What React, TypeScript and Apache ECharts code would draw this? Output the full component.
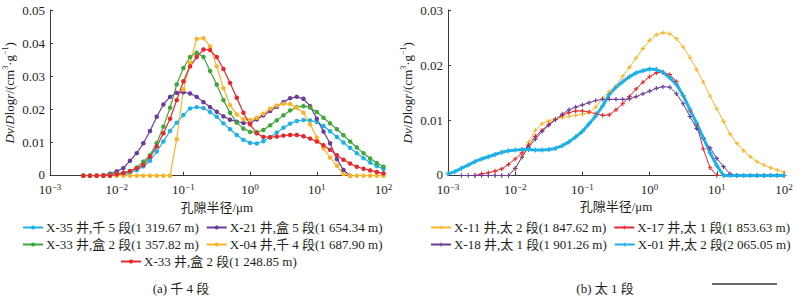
import React, { useEffect, useRef } from "react";
import * as echarts from "echarts";

// ---------- data ----------
// left chart (a) 千4段 : pore radius (µm)
const xLeft = [
  0.00316, 0.00398, 0.00501, 0.00631, 0.00794, 0.01, 0.0126, 0.0158, 0.02, 0.0251,
  0.0316, 0.0398, 0.0501, 0.0631, 0.0794, 0.1, 0.126, 0.158, 0.2, 0.251,
  0.316, 0.398, 0.501, 0.631, 0.794, 1, 1.26, 1.58, 2, 2.51,
  3.16, 3.98, 5.01, 6.31, 7.94, 10, 12.6, 15.8, 20, 25.1,
  31.6, 39.8, 50.1, 63.1, 79.4, 100,
];
const namesLeft = [
  "X-35 井,千 5 段(1 319.67 m)",
  "X-21 井,盒 5 段(1 654.34 m)",
  "X-33 井,盒 2 段(1 357.82 m)",
  "X-04 井,千 4 段(1 687.90 m)",
  "X-33 井,盒 2 段(1 248.85 m)",
];
const x35 = [
  0, 0, 0, 0, 0, 0.0001,
  0.0003, 0.0008, 0.0017, 0.0028, 0.0045,
  0.0073, 0.0103, 0.0135, 0.016, 0.0183,
  0.0203, 0.0207, 0.0204, 0.0192, 0.0178,
  0.0158, 0.014, 0.0123, 0.0108, 0.0099,
  0.0097, 0.0104, 0.0116, 0.013, 0.0145,
  0.0157, 0.0165, 0.0168, 0.0167, 0.0162,
  0.015, 0.0134, 0.0117, 0.01, 0.0084,
  0.0068, 0.0053, 0.004, 0.0029, 0.002,
];
const x21 = [
  0, 0, 0, 0.0002, 0.0006, 0.0013,
  0.0023, 0.0045, 0.0068, 0.0098, 0.0135,
  0.0178, 0.0215, 0.0238, 0.025, 0.0252,
  0.0248, 0.0238, 0.0222, 0.0207, 0.0193,
  0.0179, 0.0169, 0.0163, 0.0159, 0.0159,
  0.017, 0.0182, 0.0195, 0.0208, 0.0222,
  0.0234, 0.0238, 0.0232, 0.021, 0.0172,
  0.0133, 0.0098, 0.005, 0.0017, 0,
  null, null, null, null, null,
];
const x33a = [
  0, 0, 0, 0.0001, 0.0003, 0.0006,
  0.0009, 0.0013, 0.0025, 0.0042, 0.0062,
  0.0098, 0.0148, 0.0205, 0.0275, 0.0325,
  0.0358, 0.0371, 0.0358, 0.0316, 0.0275,
  0.0228, 0.019, 0.016, 0.0142, 0.0132,
  0.0131, 0.0138, 0.0152, 0.0167, 0.0182,
  0.0197, 0.0207, 0.021, 0.0206, 0.0192,
  0.0175, 0.0158, 0.014, 0.0122, 0.0103,
  0.0085, 0.0068, 0.0052, 0.0038, 0.0027,
];
const x04 = [
  0, 0, 0, 0, 0, 0,
  0, 0, 0, 0, 0,
  0, 0, 0, 0.011, 0.026,
  0.034, 0.0413, 0.0415, 0.039, 0.033,
  0.0264, 0.0213, 0.0185, 0.017, 0.0168,
  0.0175, 0.0187, 0.0202, 0.0212, 0.0217,
  0.0216, 0.0205, 0.019, 0.0155, 0.0115,
  0.0083, 0.0055, 0.003, 0.0005, 0,
  0, 0, 0, 0, 0,
];
const x33b = [
  0, 0, 0, 0, 0, 0.0004,
  0.0008, 0.0014, 0.0022, 0.0032, 0.0057,
  0.0088, 0.0128, 0.0172, 0.0228, 0.0285,
  0.033, 0.0358, 0.0381, 0.0379, 0.0358,
  0.0322, 0.028, 0.0235, 0.019, 0.0155,
  0.0128, 0.0117, 0.0116, 0.0118, 0.0121,
  0.0123, 0.0123, 0.0119, 0.0112, 0.0103,
  0.0092, 0.0078, 0.0062, 0.0048, 0.0037,
  0.0027, 0.0021, 0.0016, 0.0011, 0.0007,
];

// right chart (b) 太1段
const xRight = [
  0.001, 0.00126, 0.00158, 0.002, 0.00251, 0.00316, 0.00398, 0.00501, 0.00631, 0.00794,
  0.01, 0.0126, 0.0158, 0.02, 0.0251, 0.0316, 0.0398, 0.0501, 0.0631, 0.0794,
  0.1, 0.126, 0.158, 0.2, 0.251, 0.316, 0.398, 0.501, 0.631, 0.794,
  1, 1.26, 1.58, 2, 2.51, 3.16, 3.98, 5.01, 6.31, 7.94,
  10, 12.6, 15.8, 20, 25.1, 31.6, 39.8, 50.1, 63.1, 79.4,
  100,
];
const namesRight = [
  "X-11 井,太 2 段(1 847.62 m)",
  "X-17 井,太 1 段(1 853.63 m)",
  "X-18 井,太 1 段(1 901.26 m)",
  "X-01 井,太 2 段(2 065.05 m)",
];
const x11 = [
  null, null, null, null, null, null, null, 0, 0, 0, 0.0012,
  0.0034, 0.006, 0.0082, 0.0094, 0.0099,
  0.0103, 0.0105, 0.0107, 0.0109, 0.0111,
  0.0114, 0.0124, 0.014, 0.0152, 0.0162,
  0.018, 0.0196, 0.0213, 0.023, 0.0245,
  0.0255, 0.0259, 0.0257, 0.0248, 0.0233,
  0.0214, 0.0192, 0.0169, 0.0144, 0.0121,
  0.0098, 0.0075, 0.0058, 0.0045, 0.0034,
  0.0025, 0.0019, 0.0014, 0.001, 0.0006,
];
const x17 = [
  null, null, null, null, 0, 0.0003, 0.0005, 0.0008, 0.0012, 0.002, 0.003,
  0.0041, 0.0055, 0.0071, 0.0082, 0.0093,
  0.0102, 0.0109, 0.0114, 0.0117, 0.0117,
  0.0115, 0.0112, 0.0109, 0.011, 0.0119,
  0.013, 0.0143, 0.0157, 0.0169, 0.0179,
  0.0186, 0.0187, 0.0183, 0.017, 0.0145,
  0.0117, 0.0092, 0.0048, 0.0014, 0,
  0, null, null, null, null,
  null, null, null, null, null,
];
const x18 = [
  null, null, 0, 0, 0, 0, 0, 0, 0, 0, 0.0013,
  0.0033, 0.0051, 0.0066, 0.008, 0.0091,
  0.0101, 0.0111, 0.0119, 0.0124, 0.0128,
  0.0132, 0.0136, 0.0138, 0.0138, 0.0138,
  0.0138, 0.0139, 0.0143, 0.0148, 0.0153,
  0.0158, 0.0161, 0.016, 0.0148, 0.013,
  0.0107, 0.0085, 0.0067, 0.005, 0.0031,
  0.0016, 0.0003, 0, 0, 0,
  0, 0, 0, 0, 0,
];
const x01 = [
  0.0003, 0.0007, 0.0013, 0.0019, 0.0025, 0.003, 0.0034, 0.0038, 0.0042, 0.0045, 0.0046,
  0.0047, 0.0047, 0.0046, 0.0046, 0.0047,
  0.0049, 0.0054, 0.0061, 0.007, 0.008,
  0.0094, 0.0108, 0.0126, 0.0147, 0.016,
  0.017, 0.0179, 0.0186, 0.019, 0.0193,
  0.0192, 0.0187, 0.0177, 0.0165, 0.0145,
  0.012, 0.0095, 0.0068, 0.0041, 0.0018,
  0, 0, 0, 0, 0,
  0, 0, 0, 0, 0,
];

const yLeftTicks = [0, 0.01, 0.02, 0.03, 0.04, 0.05];
const yRightTicks = [0, 0.01, 0.02, 0.03];

// ---------- style ----------
const FONT = '"Liberation Serif", "Times New Roman", "Noto Sans CJK SC", serif';
const INK = "#231f20";
const AXIS = "#3a3a3a";
const C_CYAN = "#1eb1e7";
const C_PURPLE = "#6a3d9a";
const C_GREEN = "#3fa63a";
const C_ORANGE = "#fbb428";
const C_RED = "#e8262b";
const PLUS = "path://M3,0H5V3H8V5H5V8H3V5H0V3H3Z";

function pairs(xs: number[], ys: (number | null)[]) {
  const out: number[][] = [];
  xs.forEach((x, i) => {
    const y = ys[i];
    if (y !== null && y !== undefined) out.push([x, y]);
  });
  return out;
}

function supExp(v: number) {
  const e = Math.round(Math.log10(v));
  const s = e < 0 ? "\u2212" + String(-e) : String(e);
  return "{base|10}{sup|" + s + "}";
}

function line(
  name: string,
  xs: number[],
  ys: (number | null)[],
  color: string,
  gi: number,
  symbol: string,
  size: number,
  width: number
) {
  return {
    type: "line",
    name,
    xAxisIndex: gi,
    yAxisIndex: gi,
    data: pairs(xs, ys),
    symbol,
    symbolSize: size,
    showSymbol: true,
    smooth: false,
    lineStyle: { color, width },
    itemStyle: { color, borderWidth: 0 },
    emphasis: { disabled: true },
  };
}

const richSup = {
  sup: { fontSize: 9, fontFamily: FONT, color: INK, verticalAlign: "top", lineHeight: 13 },
  base: { fontSize: 13, fontFamily: FONT, color: INK, verticalAlign: "bottom", lineHeight: 13 },
};

function xAxisCfg(gi: number) {
  return {
    type: "log",
    logBase: 10,
    gridIndex: gi,
    min: 0.001,
    max: 100,
    name: "孔隙半径/μm",
    nameLocation: "middle",
    nameGap: 24,
    nameTextStyle: { fontFamily: FONT, fontSize: 13, color: INK },
    axisLine: { show: true, lineStyle: { color: AXIS, width: 1 } },
    axisTick: { show: true, inside: true, length: 4, lineStyle: { color: AXIS } },
    minorTick: { show: false },
    splitLine: { show: false },
    minorSplitLine: { show: false },
    axisLabel: {
      formatter: (v: number) => supExp(v),
      fontFamily: FONT,
      fontSize: 13,
      color: INK,
      margin: 7,
      lineHeight: 13,
      rich: richSup,
    },
  };
}

const yName = "{i|Dv}/{i|D}log{i|r}/(cm{sup|3}·g{sup|\u22121})";

function yAxisCfg(gi: number, ticks: number[]) {
  return {
    type: "value",
    gridIndex: gi,
    min: ticks[0],
    max: ticks[ticks.length - 1],
    interval: ticks[1] - ticks[0],
    name: yName,
    nameLocation: "middle",
    nameRotate: 90,
    nameGap: 33,
    nameTextStyle: {
      fontFamily: FONT,
      fontSize: 13,
      color: INK,
      lineHeight: 16,
      rich: {
        i: { fontStyle: "italic", fontFamily: FONT, fontSize: 13, color: INK, lineHeight: 16 },
        sup: { fontSize: 8, fontFamily: FONT, color: INK, verticalAlign: "top", lineHeight: 16 },
      },
    },
    axisLine: { show: true, lineStyle: { color: AXIS, width: 1 } },
    axisTick: { show: true, inside: true, length: 3, lineStyle: { color: AXIS } },
    splitLine: { show: false },
    axisLabel: {
      fontFamily: FONT,
      fontSize: 13,
      color: INK,
      margin: 5,
      lineHeight: 10,
      formatter: (v: number) => (v === 0 ? "{z|0}" : String(Number(v.toFixed(2)))),
      rich: {
        z: { fontFamily: FONT, fontSize: 13, color: INK, lineHeight: 10, padding: [0, 0, 3, 0] },
      },
    },
  };
}

function legendRow(data: string[], left: number, top: number) {
  return {
    data,
    left,
    top,
    orient: "horizontal",
    padding: 0,
    itemGap: 7,
    itemWidth: 20,
    itemHeight: 5,
    selectedMode: false,
    textStyle: { fontFamily: FONT, fontSize: 13, color: INK, padding: [0, 0, 0, -2] },
  };
}

export default function App() {
  const ref = useRef<HTMLDivElement>(null);

  useEffect(() => {
    document.body.style.margin = "0";
    if (!ref.current) return;
    const chart = echarts.init(ref.current, null, { renderer: "svg" });

    const option = {
      animation: false,
      backgroundColor: "#ffffff",
      grid: [
        { left: 49.5, right: 420.5, top: 10, bottom: 120.3 },
        { left: 448, right: 20, top: 10, bottom: 120.5 },
      ],
      xAxis: [xAxisCfg(0), xAxisCfg(1)],
      yAxis: [yAxisCfg(0, yLeftTicks), yAxisCfg(1, yRightTicks)],
      legend: [
        legendRow([namesLeft[0], namesLeft[1]], 22, 221),
        legendRow([namesLeft[2], namesLeft[3]], 22, 238),
        legendRow([namesLeft[4]], 120, 255),
        legendRow([namesRight[0], namesRight[1]], 430, 221),
        legendRow([namesRight[2], namesRight[3]], 430, 238),
      ],
      series: [
        line(namesLeft[0], xLeft, x35, C_CYAN, 0, "circle", 4.5, 1.2),
        line(namesLeft[1], xLeft, x21, C_PURPLE, 0, "circle", 4.5, 1.2),
        line(namesLeft[2], xLeft, x33a, C_GREEN, 0, "circle", 4.5, 1.2),
        line(namesLeft[3], xLeft, x04, C_ORANGE, 0, "circle", 4.5, 1.2),
        line(namesLeft[4], xLeft, x33b, C_RED, 0, "circle", 4.5, 1.2),
        line(namesRight[0], xRight, x11, C_ORANGE, 1, PLUS, 4.5, 1),
        line(namesRight[1], xRight, x17, C_RED, 1, PLUS, 4.5, 1),
        line(namesRight[2], xRight, x18, C_PURPLE, 1, PLUS, 4.5, 1),
        line(namesRight[3], xRight, x01, C_CYAN, 1, PLUS, 5, 3),
      ],
      graphic: [
        {
          type: "text",
          x: 181,
          y: 288,
          style: {
            text: "(a) 千 4 段",
            fontFamily: FONT,
            fontSize: 13,
            fill: INK,
            align: "center",
            verticalAlign: "middle",
          },
        },
        {
          type: "text",
          x: 605,
          y: 288,
          style: {
            text: "(b) 太 1 段",
            fontFamily: FONT,
            fontSize: 13,
            fill: INK,
            align: "center",
            verticalAlign: "middle",
          },
        },
        {
          type: "line",
          shape: { x1: 712, y1: 284, x2: 777, y2: 284 },
          style: { stroke: "#3a3a3a", lineWidth: 1.5 },
        },
      ],
    };

    chart.setOption(option as any);
    return () => chart.dispose();
  }, []);

  return <div ref={ref} style={{ width: 804, height: 296 }} />;
}
